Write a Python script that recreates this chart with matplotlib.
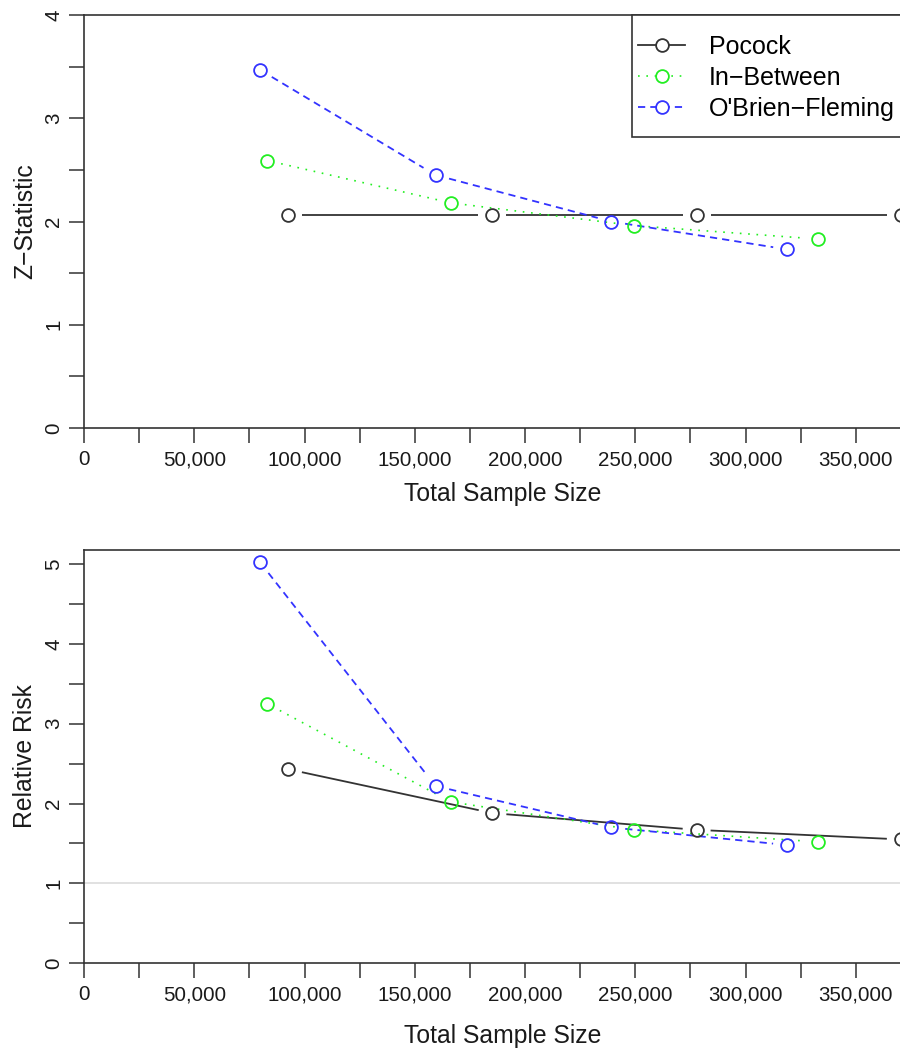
import numpy as np
import matplotlib
matplotlib.use("Agg")
import matplotlib.pyplot as plt
from matplotlib.lines import Line2D
from matplotlib.patches import Rectangle
from matplotlib.ticker import FuncFormatter, MultipleLocator

plt.rcParams['font.family'] = ['Liberation Sans', 'DejaVu Sans']

# ---- data ----
series_names = ["Pocock", "In\u2212Between", "O'Brien\u2212Fleming"]
pocock_n = [92600, 185200, 277800, 370400]
inbetween_n = [83200, 166400, 249600, 332800]
obf_n = [79700, 159400, 239100, 318800]

z_pocock = [2.06, 2.06, 2.06, 2.06]
z_inbetween = [2.59, 2.18, 1.96, 1.83]
z_obf = [3.47, 2.45, 2.00, 1.73]

rr_pocock = [2.43, 1.88, 1.67, 1.55]
rr_inbetween = [3.25, 2.02, 1.67, 1.52]
rr_obf = [5.03, 2.22, 1.70, 1.48]

reference_rr = 1.0

# ---- styles ----
C_POC = '#333333'
C_INB = '#22ee22'
C_OBF = '#3333ff'
styles = [
    dict(color=C_POC, linestyle='-', lw=1.3),
    dict(color=C_INB, linestyle=(0, (1.0, 4.0)), lw=1.2),
    dict(color=C_OBF, linestyle=(0, (4.0, 2.8)), lw=1.3),
]
AXC = '#333333'
W, H = 900, 1049
fig = plt.figure(figsize=(W / 100, H / 100), dpi=100)

def px_rect(l, t, r, b):
    return [l / W, 1 - b / H, (r - l) / W, (b - t) / H]

def gapped(ax, x, y, gap, **kw):
    pts = ax.transData.transform(np.column_stack([x, y]))
    inv = ax.transData.inverted()
    for p0, p1 in zip(pts[:-1], pts[1:]):
        d = p1 - p0
        L = np.hypot(*d)
        u = d / L
        seg = inv.transform(np.array([p0 + u * gap, p1 - u * gap]))
        ax.plot(seg[:, 0], seg[:, 1], solid_capstyle='butt', dash_capstyle='butt', **kw)

def setup(ax, ymax, ylabel, xlabelpad):
    ax.set_xlim(0, 380000)
    ax.set_ylim(0, ymax)
    for s in ax.spines.values():
        s.set_color(AXC)
        s.set_linewidth(1.2)
    ax.xaxis.set_major_locator(MultipleLocator(50000))
    ax.xaxis.set_minor_locator(MultipleLocator(25000))
    ax.yaxis.set_major_locator(MultipleLocator(1))
    ax.yaxis.set_minor_locator(MultipleLocator(0.5))
    ax.xaxis.set_major_formatter(FuncFormatter(lambda v, p: f"{int(round(v)):,}"))
    ax.tick_params(which='both', direction='out', length=11, width=1.1, color=AXC,
                   labelsize=14.8, labelcolor='#1a1a1a')
    ax.tick_params(axis='x', pad=5)
    ax.tick_params(axis='y', pad=4)
    for lab in ax.get_yticklabels():
        lab.set_rotation(90)
        lab.set_va('center')
    ax.set_xlabel("Total Sample Size", fontsize=17.8, labelpad=xlabelpad, color='#1a1a1a')
    ax.set_ylabel(ylabel, fontsize=17.8, labelpad=5, color='#1a1a1a')

def draw(ax, ns, vals):
    for n, v, st in zip(ns, vals, styles):
        gapped(ax, n, v, 14, color=st['color'], linestyle=st['linestyle'], lw=st['lw'])
        ax.plot(n, v, linestyle='none', marker='o', markersize=9.2, markerfacecolor='none',
                markeredgecolor=st['color'], markeredgewidth=1.3, clip_on=False, zorder=3)

# top panel
ax1 = fig.add_axes(px_rect(84, 15, 922, 428))
setup(ax1, 4, "Z\u2212Statistic", 9)
draw(ax1, [pocock_n, inbetween_n, obf_n], [z_pocock, z_inbetween, z_obf])

# legend frame (R-style box anchored at the top-right of the plot region)
frame = Rectangle((632 / W, 1 - 137 / H), (935 - 632) / W, (137 - 15) / H,
                  transform=fig.transFigure, facecolor='white', edgecolor=AXC,
                  linewidth=1.2, zorder=4.9, clip_on=False)
ax1.add_patch(frame)

handles = [Line2D([], [], color=st['color'], linestyle=st['linestyle'], lw=st['lw'],
                  marker='o', markersize=9.2, markerfacecolor='white',
                  markeredgecolor=st['color'], markeredgewidth=1.3) for st in styles]
leg = ax1.legend(handles, series_names, loc='upper left',
                 bbox_to_anchor=(638 / W, 1 - 35 / H), bbox_transform=fig.transFigure,
                 fontsize=18, frameon=False, borderpad=0, labelspacing=0.28,
                 handlelength=1.88, handletextpad=0.96, borderaxespad=0, numpoints=1)
leg.set_zorder(5)

# bottom panel
ax2 = fig.add_axes(px_rect(84, 550, 922, 963))
setup(ax2, 5.18, "Relative Risk", 14)
ax2.axhline(reference_rr, color='#d8d8d8', lw=1.1, zorder=0)
draw(ax2, [pocock_n, inbetween_n, obf_n], [rr_pocock, rr_inbetween, rr_obf])

fig.savefig("out.png", dpi=100)
